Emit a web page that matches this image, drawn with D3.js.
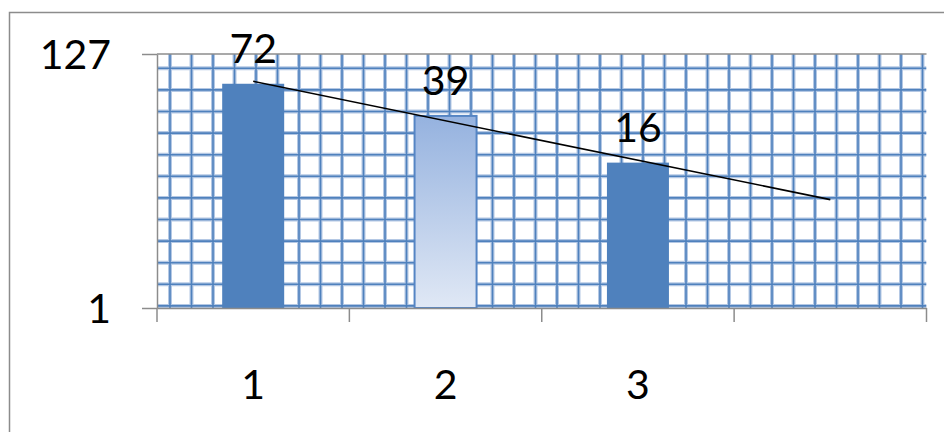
<!DOCTYPE html>
<meta charset="utf-8">
<html>
  <head>
    <style>
      body { margin: 0; background: #fff; }
      text { font-family: Lato, "Open Sans", sans-serif; fill: #000; }
    </style>
    <script src="https://d3js.org/d3.v7.min.js"></script>
  </head>
  <body>
<div id="my_dataviz"></div>
<script>
// data
var categories = ["1", "2", "3", "4"];
var tickLabels = ["1", "2", "3", ""];
var values = [72, 39, 16];
var yTicks = [1, 127];

var W = 944, H = 432;
var margin = {top: 54, right: 17.5, bottom: 124, left: 157};
var width = W - margin.left - margin.right,
    height = H - margin.top - margin.bottom;

var svg = d3.select("#my_dataviz").append("svg")
  .attr("width", W).attr("height", H);

// chart area border (only left + top show in the frame)
svg.append("path")
  .attr("d", "M9.5,432 V12.5 H944")
  .attr("fill", "none").attr("stroke", "#8c8c8c").attr("stroke-width", 1.5);

var g = svg.append("g").attr("transform", "translate(" + margin.left + "," + margin.top + ")");

var x = d3.scaleBand().domain(categories).range([0, width]);
var y = d3.scaleLog().base(127).domain([1, 127]).range([height, 0]);

// grid pattern fill of plot area
var defs = svg.append("defs");
defs.append("clipPath").attr("id", "plotclip")
  .append("rect").attr("width", width).attr("height", height);

var grad = defs.append("linearGradient").attr("id", "bar2grad")
  .attr("x1", 0).attr("y1", 0).attr("x2", 0).attr("y2", 1);
grad.append("stop").attr("offset", "0%").attr("stop-color", "#95b2df");
grad.append("stop").attr("offset", "100%").attr("stop-color", "#e0e8f5");

var grid = g.append("g").attr("clip-path", "url(#plotclip)");
var step = 21.5, stepY = 21.6;
var vx = d3.range(13, width, step);
var hy = d3.range(14.3, height + 2, stepY);
[["#b4c8e4", 4], ["#4f81bd", 1.6]].forEach(function(s) {
  grid.selectAll(null).data(vx).enter().append("line")
    .attr("x1", d => d).attr("x2", d => d).attr("y1", 0).attr("y2", height)
    .attr("stroke", s[0]).attr("stroke-width", s[1]);
  grid.selectAll(null).data(hy).enter().append("line")
    .attr("y1", d => d).attr("y2", d => d).attr("x1", 0).attr("x2", width)
    .attr("stroke", s[0]).attr("stroke-width", s[1]);
});

// major gridline at the top value
g.append("line").attr("x1", 0).attr("x2", width)
  .attr("y1", y(127)).attr("y2", y(127))
  .attr("stroke", "#8c8c8c").attr("stroke-width", 1.5);

// bars
var barW = 62;
g.selectAll(".bar").data(values).enter().append("rect")
  .attr("class", "bar")
  .attr("x", (d, i) => x(categories[i]) + x.bandwidth() / 2 - barW / 2)
  .attr("y", d => y(d))
  .attr("width", barW)
  .attr("height", d => height - y(d))
  .attr("fill", (d, i) => i === 1 ? "url(#bar2grad)" : "#4f81bd")
  .attr("stroke", (d, i) => i === 1 ? "#5585c4" : "none")
  .attr("stroke-width", 2);

// exponential trendline, forecast 1 period forward
var xs = values.map((d, i) => i + 1);
var ly = values.map(d => Math.log(d));
var mx = d3.mean(xs), my = d3.mean(ly);
var slope = d3.sum(xs, (d, i) => (d - mx) * (ly[i] - my)) / d3.sum(xs, d => (d - mx) * (d - mx));
var icpt = my - slope * mx;
var trend = [1, 4].map(k => [k, Math.exp(icpt + slope * k)]);
g.append("path")
  .attr("d", d3.line()
    .x(d => x(categories[d[0] - 1]) + x.bandwidth() / 2)
    .y(d => y(d[1]))(trend))
  .attr("fill", "none").attr("stroke", "#000").attr("stroke-width", 1.6);

// data labels
g.selectAll(".lbl").data(values).enter().append("text")
  .attr("x", (d, i) => x(categories[i]) + x.bandwidth() / 2)
  .attr("y", d => y(d) - 21)
  .attr("text-anchor", "middle")
  .style("font-size", "41px")
  .text(d => d);

// axes
var xAxis = g.append("g").attr("transform", "translate(0," + height + ")")
  .call(d3.axisBottom(x).tickValues([]).tickSizeOuter(0));
xAxis.select(".domain").attr("stroke", "#8c8c8c").attr("stroke-width", 1.5);
xAxis.selectAll(null).data(d3.range(categories.length + 1)).enter().append("line")
  .attr("x1", i => i * x.step()).attr("x2", i => i * x.step())
  .attr("y1", 0).attr("y2", 14)
  .attr("stroke", "#8c8c8c").attr("stroke-width", 1.5);
xAxis.selectAll(null).data(tickLabels).enter().append("text")
  .attr("x", (d, i) => x(categories[i]) + x.bandwidth() / 2)
  .attr("y", 91)
  .attr("text-anchor", "middle")
  .style("font-size", "41px")
  .text(d => d);

var yAxis = g.append("g")
  .call(d3.axisLeft(y).tickValues(yTicks).tickSize(15).tickSizeOuter(0).tickFormat(d3.format("d")));
yAxis.select(".domain").attr("stroke", "#8c8c8c").attr("stroke-width", 1.5);
yAxis.selectAll(".tick line").attr("stroke", "#8c8c8c").attr("stroke-width", 1.5);
yAxis.selectAll(".tick text")
  .attr("x", -46).attr("dy", "0.36em")
  .style("font-size", "41px").style("font-family", "Lato, sans-serif").attr("fill", "#000");
</script>
</body>
</html>
